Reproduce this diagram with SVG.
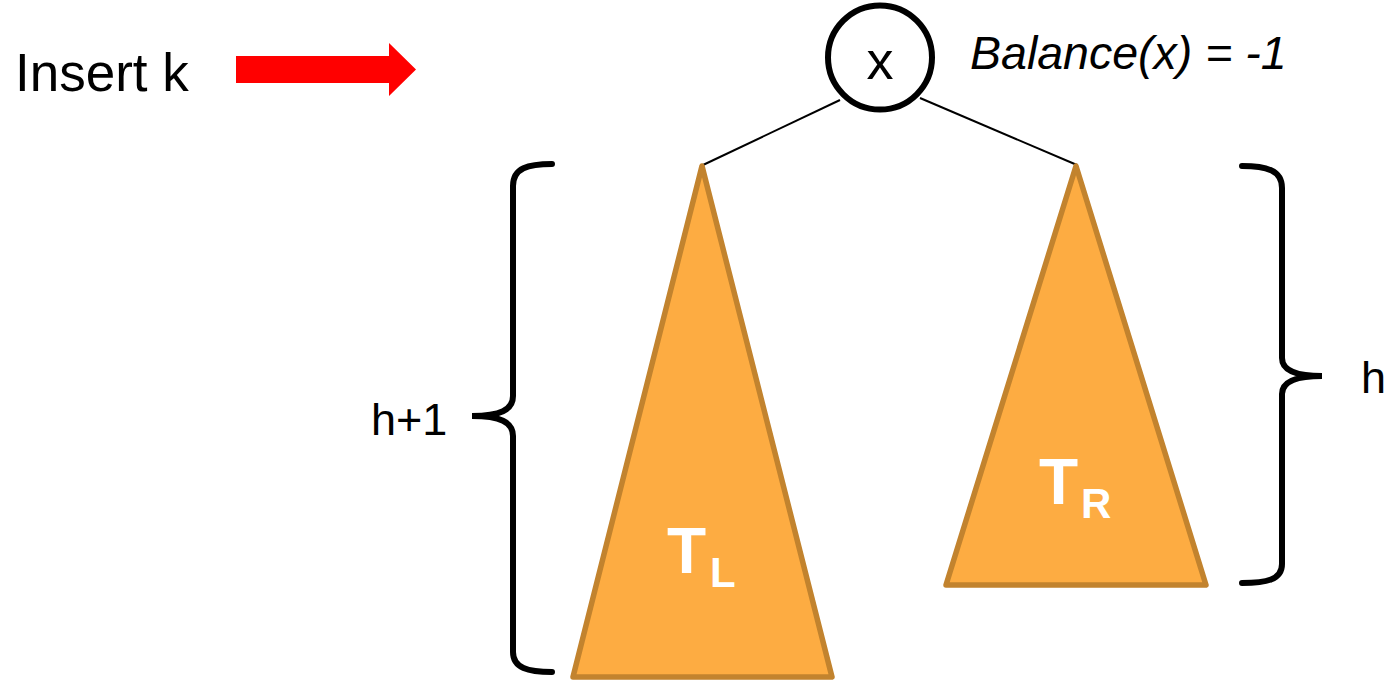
<svg xmlns="http://www.w3.org/2000/svg" width="1389" height="684" viewBox="0 0 1389 684">
<style>
.t{font-family:"Liberation Sans",Arial,sans-serif;fill:#000}
.tree{fill:#FDAC42;stroke:#C2832E;stroke-width:5.5;stroke-linejoin:round}
.lbl{font-family:"Liberation Sans",Arial,sans-serif;font-weight:bold;fill:#fff}
.brace{fill:none;stroke:#000;stroke-width:6;stroke-linecap:round}
.edge{stroke:#000;stroke-width:2;fill:none}
</style>
<rect width="1389" height="684" fill="#fff"/>
<g id="connectors">
<line class="edge" x1="840" y1="100" x2="703" y2="165"/>
<line class="edge" x1="920" y1="98" x2="1077" y2="165"/>
</g>
<g id="insert">
<text class="t" x="15" y="91" font-size="53">Insert k</text>
<polygon points="236,56 389,56 389,43 416,69.5 389,96 389,83 236,83" fill="#FF0000"/>
</g>
<g id="node-x">
<circle cx="880" cy="57.5" r="52" fill="#fff" stroke="#000" stroke-width="6"/>
<text class="t" x="880" y="79" font-size="54" text-anchor="middle">x</text>
</g>
<g id="balance">
<text class="t" x="970" y="69" font-size="46.5" font-style="italic">Balance(x) = -1</text>
</g>
<g id="TL">
<polygon class="tree" points="702,166 832,677 573,677"/>
<text class="lbl" x="667" y="573" font-size="64">T<tspan x="710" y="587" font-size="42">L</tspan></text>
</g>
<g id="TR">
<polygon class="tree" points="1076,166 1206,585 946,585"/>
<text class="lbl" x="1039" y="504" font-size="64">T<tspan x="1081" y="518" font-size="42">R</tspan></text>
</g>
<g id="brace-left">
<path class="brace" d="M552,164 C528,164 513,168 513,186 L513,396 C513,410 500,416 472,416 C500,416 513,422 513,436 L513,652 C513,668 528,672 552,672"/>
<text class="t" x="371" y="435" font-size="45">h+1</text>
</g>
<g id="brace-right">
<path class="brace" d="M1242,166 C1266,166 1282,170 1282,188 L1282,358 C1282,370 1295,376 1322,376 C1295,376 1282,382 1282,394 L1282,564 C1282,580 1266,583 1242,583"/>
<text class="t" x="1361" y="393" font-size="45">h</text>
</g>
</svg>
